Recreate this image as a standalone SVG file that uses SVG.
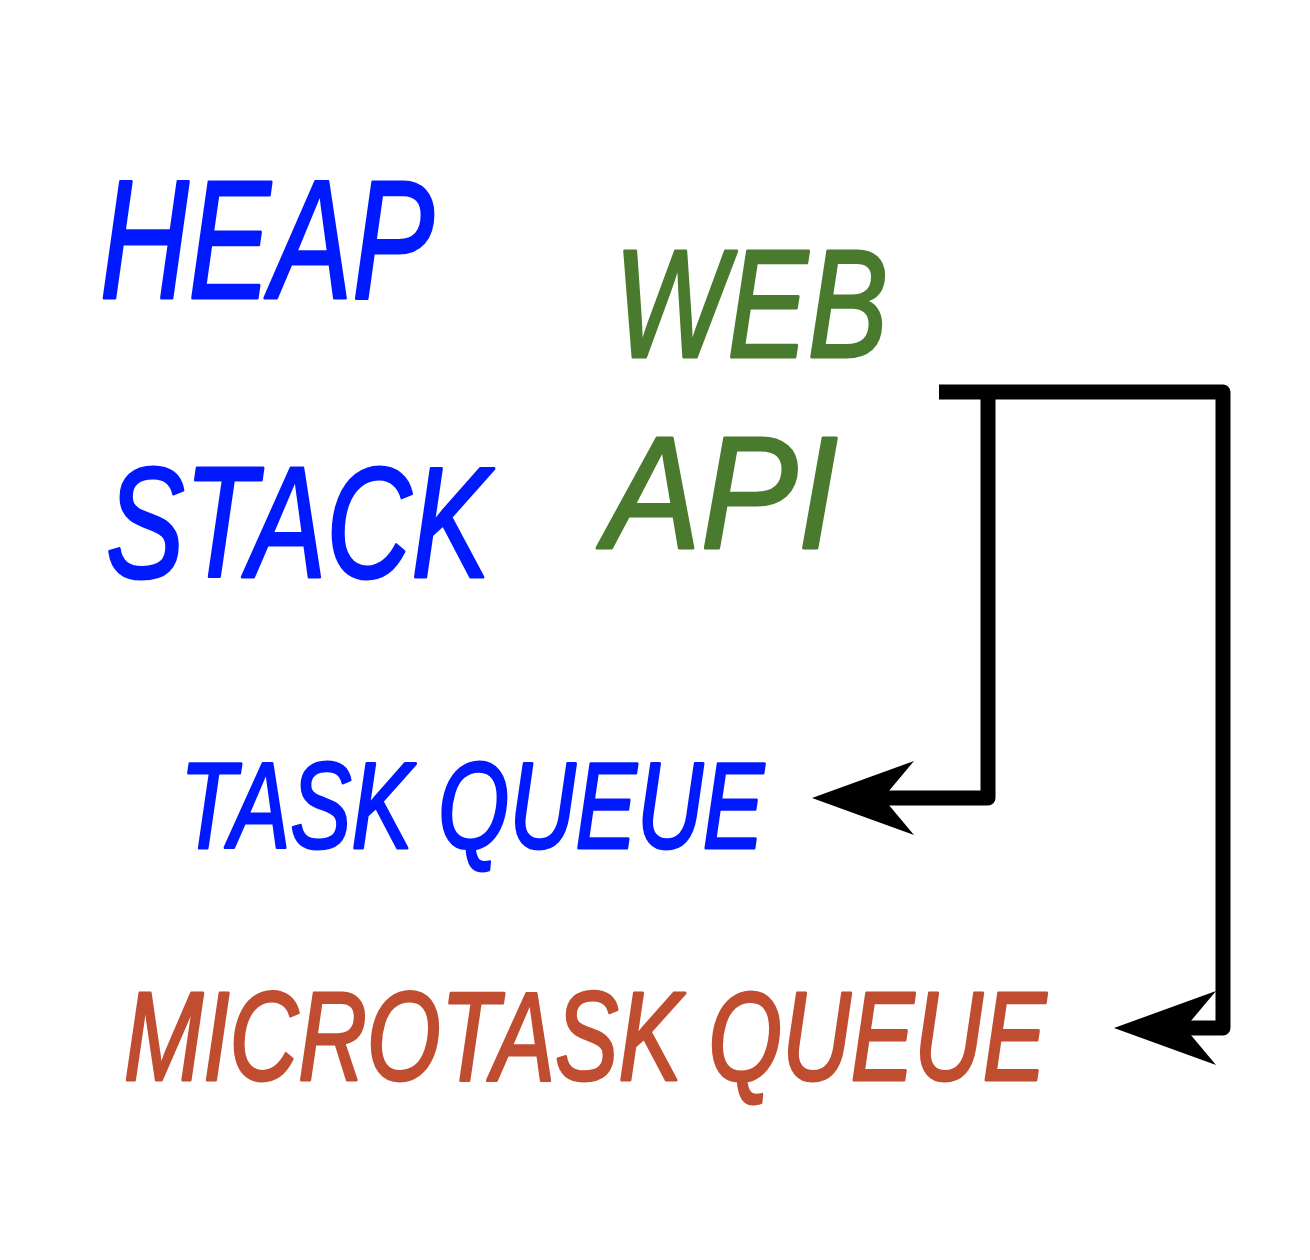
<svg xmlns="http://www.w3.org/2000/svg" width="1310" height="1260" viewBox="0 0 1310 1260">
<defs>
<style>
.t{font-family:"Liberation Sans","DejaVu Sans",sans-serif;font-style:italic;font-weight:normal;stroke-width:3;stroke-linejoin:round}
.blue{fill:#0019ff;stroke:#0019ff}
.green{fill:#4a7a2e;stroke:#4a7a2e}
.red{fill:#c04d30;stroke:#c04d30}
.conn{fill:none;stroke:#000;stroke-width:15;stroke-linejoin:round;stroke-linecap:butt}
</style>
<marker id="arr" markerUnits="userSpaceOnUse" viewBox="-35 -40 110 80" markerWidth="110" markerHeight="80" refX="0" refY="0" orient="auto" overflow="visible">
<path d="M71 0 L-31 -37 L0 0 L-31 37 Z" fill="#000"/>
</marker>
</defs>
<rect width="1310" height="1260" fill="#fff"/>
<g id="heap"><text class="t blue" x="100" y="298" font-size="168" textLength="334" lengthAdjust="spacingAndGlyphs">HEAP</text></g>
<g id="stack"><text class="t blue" x="106" y="577" font-size="158" textLength="384" lengthAdjust="spacingAndGlyphs">STACK</text></g>
<g id="webapi">
<text class="t green" x="614" y="357" font-size="154" textLength="274" lengthAdjust="spacingAndGlyphs">WEB</text>
<text class="t green" x="604" y="548" font-size="160" textLength="234" lengthAdjust="spacingAndGlyphs">API</text>
</g>
<g id="taskqueue"><text class="t blue" x="180" y="848" font-size="123" textLength="584" lengthAdjust="spacingAndGlyphs">TASK QUEUE</text></g>
<g id="microtaskqueue"><text class="t red" x="124" y="1080" font-size="126" textLength="922" lengthAdjust="spacingAndGlyphs">MICROTASK QUEUE</text></g>
<g id="connectors">
<path class="conn" d="M939 392 H1223 V1028 H1185" marker-end="url(#arr)"/>
<path class="conn" d="M988 392 V798 H883" marker-end="url(#arr)"/>
</g>
</svg>
